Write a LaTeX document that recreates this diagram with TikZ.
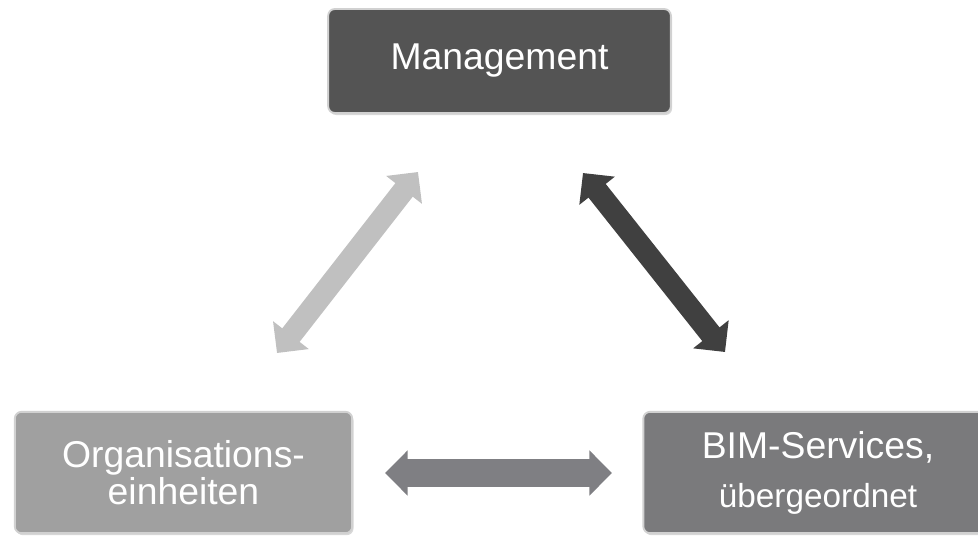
\documentclass[tikz,border=0pt]{standalone}
\usepackage{fontspec}
\setmainfont{Liberation Sans}
\usetikzlibrary{arrows.meta,shadows}
\definecolor{gris_fonce}{HTML}{545454}
\definecolor{gris_moyen}{HTML}{7A7A7C}
\definecolor{gris_clair}{HTML}{A0A0A0}
\definecolor{fleche_claire}{HTML}{C0C0C0}
\definecolor{fleche_foncee}{HTML}{404040}
\definecolor{fleche_moyenne}{HTML}{7F7F83}
\tikzset{
  boite/.style={rectangle,rounded corners=5pt,draw=black!18,line width=1.4pt,
    text=white,align=center,font=\fontsize{28}{27.75}\selectfont,
    drop shadow={shadow xshift=1pt,shadow yshift=-1.5pt,fill=black!30}},
  fleche/.style={line width=#1,{Triangle[width=33pt,length=17pt]}-{Triangle[width=33pt,length=17pt]}},
}
\begin{document}
\begin{tikzpicture}[x=0.75pt,y=-0.75pt]
\useasboundingbox (0,0) rectangle (978,536);
\node[boite,fill=gris_fonce,minimum width=257pt,minimum height=78pt] (management) at (499.5,61) {Management};
\node[boite,fill=gris_clair,minimum width=253pt,minimum height=91pt] (organisation) at (183.5,472.5) {Organisations-\\einheiten};
\node[boite,fill=gris_moyen,minimum width=262pt,minimum height=91pt] (bim) at (818,472.5) {BIM-Services,\\[9pt]{\fontsize{25}{27.75}\selectfont übergeordnet}};
\coordinate (g_bas) at (277,353);
\coordinate (g_haut) at (418,172);
\coordinate (d_haut) at (583,173);
\coordinate (d_bas) at (725,352);
\coordinate (m_gauche) at (385,473);
\coordinate (m_droite) at (612,473);
\draw[fleche=16.5pt,fleche_claire] (g_bas) -- (g_haut);
\draw[fleche=16.5pt,fleche_foncee] (d_haut) -- (d_bas);
\draw[fleche=21pt,fleche_moyenne] (m_gauche) -- (m_droite);
\end{tikzpicture}
\end{document}
